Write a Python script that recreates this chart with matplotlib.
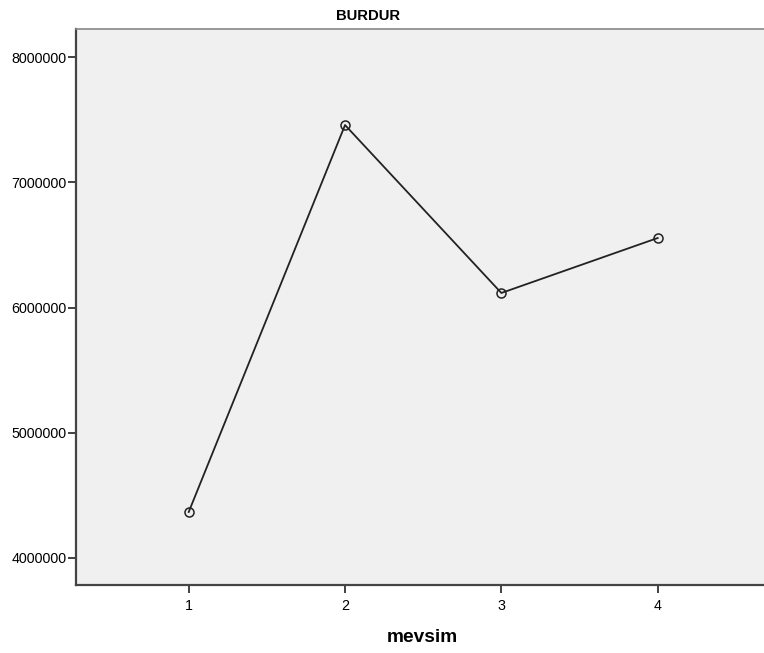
import matplotlib.pyplot as plt

plt.rcParams['font.family'] = ['Liberation Sans', 'DejaVu Sans']

mevsim = [1, 2, 3, 4]
values = [4367000, 7457000, 6116000, 6555000]
yticks = [4000000, 5000000, 6000000, 7000000, 8000000]

fig = plt.figure(figsize=(7.64, 6.53), dpi=100)
ax = fig.add_axes([76 / 764, 1 - 585 / 653, 1 - 76 / 764, (585 - 29) / 653])
ax.set_facecolor('#f0f0f0')

ax.plot(mevsim, values, color='#222222', lw=1.3, marker='o', markersize=6.5,
        markerfacecolor='none', markeredgecolor='#222222', markeredgewidth=1.1)

ax.set_xlim(0.279, 4.68)
ax.set_ylim(3784000, 8224000)
ax.set_xticks(mevsim)
ax.set_yticks(yticks)
ax.set_yticklabels([str(v) for v in yticks])
ax.tick_params(labelsize=10.3, length=6, width=1.3, color='#333333')
ax.tick_params(axis='y', pad=1)
ax.tick_params(axis='x', pad=4)

for side in ['left', 'bottom']:
    ax.spines[side].set_color('#444444')
    ax.spines[side].set_linewidth(1.6)
ax.spines['top'].set_color('#888888')
ax.spines['top'].set_linewidth(1.2)
ax.spines['right'].set_visible(False)

fig.text(368.5 / 764, 1 - 16.5 / 653, 'BURDUR', ha='center', va='center',
         fontsize=10.7, fontweight='bold')
fig.text(422 / 764, 1 - 637 / 653, 'mevsim', ha='center', va='center',
         fontsize=13.8, fontweight='bold')

fig.savefig('out.png', dpi=100)
